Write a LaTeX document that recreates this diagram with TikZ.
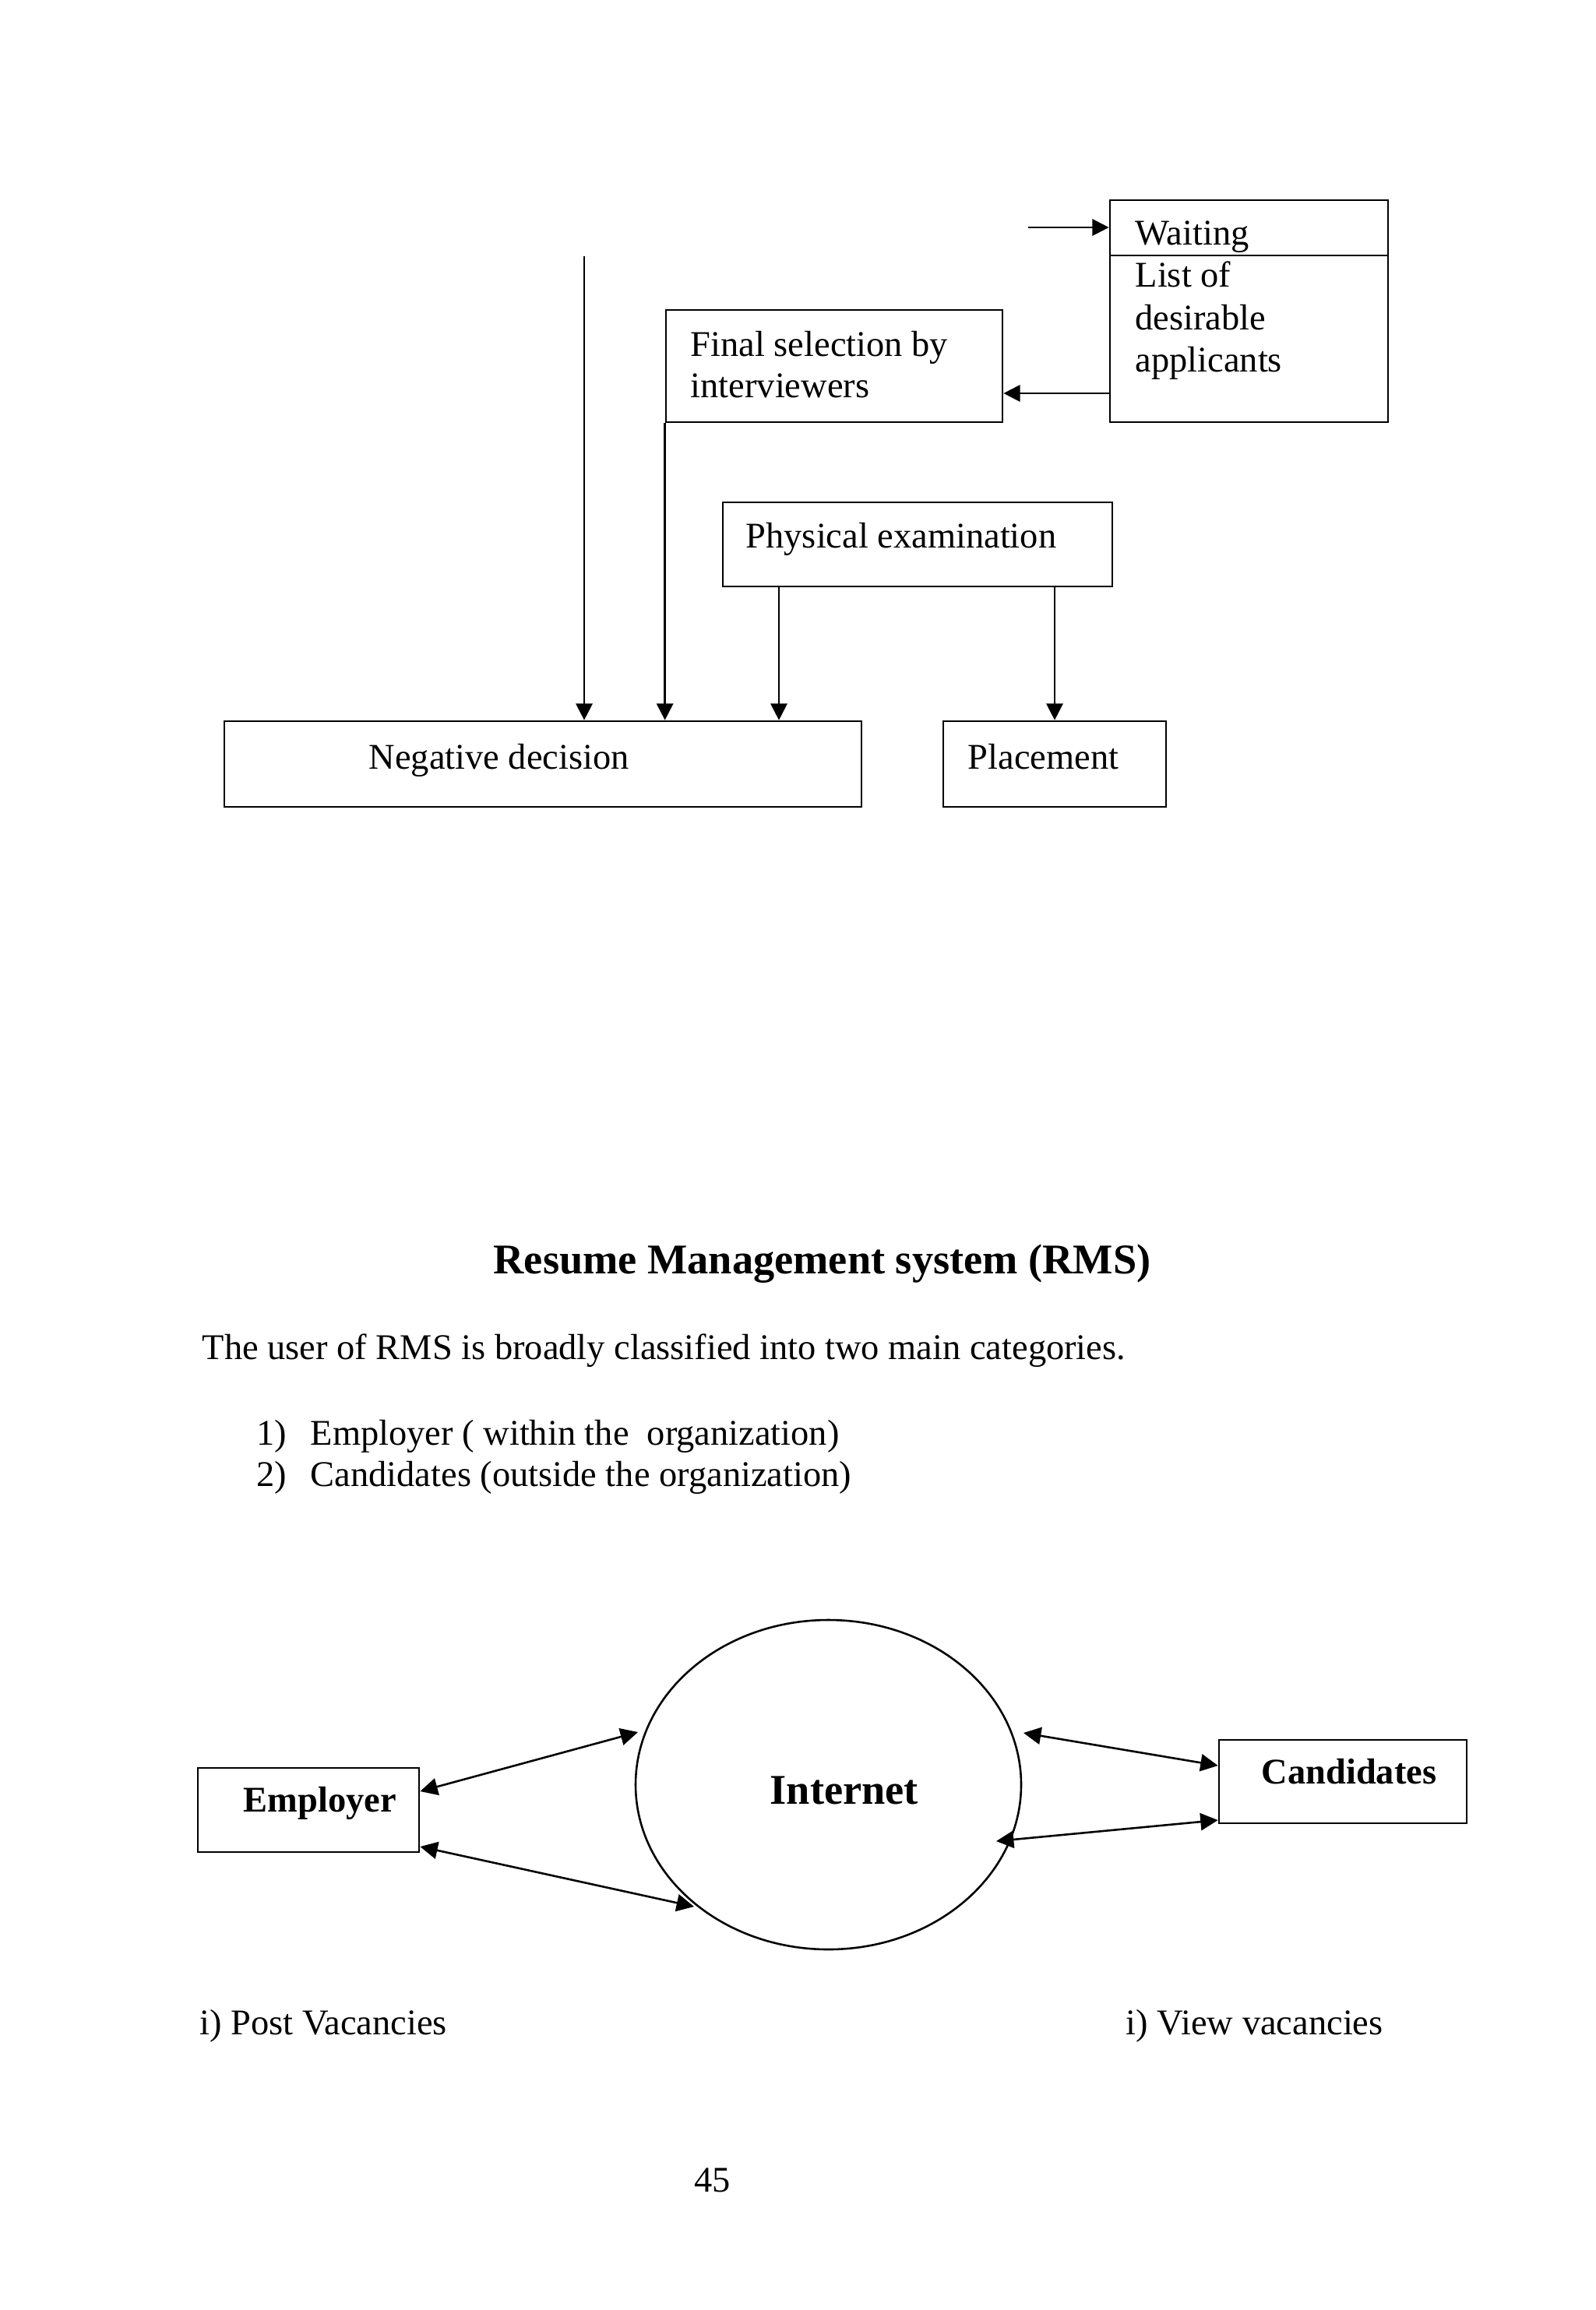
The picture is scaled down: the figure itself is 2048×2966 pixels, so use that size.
\documentclass[tikz,border=0pt]{standalone}
\usepackage{fontspec}
\setmainfont{Liberation Serif}
\usetikzlibrary{arrows.meta,fit,shapes.geometric}
\tikzset{
  boxshape/.style={draw, line width=0.8pt, rectangle, inner sep=0pt},
  lbl/.style={inner sep=0pt, anchor=base west, font=\fontsize{13.5}{15.5}\selectfont},
  blbl/.style={inner sep=0pt, anchor=base west, font=\fontsize{13.5}{15.5}\selectfont\bfseries},
  biglbl/.style={inner sep=0pt, anchor=base west, font=\fontsize{15.8}{18}\selectfont\bfseries},
  arr/.style={line width=0.7pt, -{Triangle[length=6.2pt,width=6.2pt]}},
  darr/.style={line width=0.75pt, {Triangle[length=6.5pt,width=6.4pt]}-{Triangle[length=6.5pt,width=6.4pt]}}
}
\begin{document}
\begin{tikzpicture}[x=0.29067pt,y=-0.29067pt]
\useasboundingbox[fill=white] (0,0) rectangle (2048,2966);

% ---------- top flow ----------
\node[boxshape, fit={(1425,257) (1782,328)}] (waittop) {};
\node[boxshape, fit={(1425,328) (1782,542)}] (waitlist) {};
\node[boxshape, fit={(855,398) (1287,542)}] (final) {};
\node[boxshape, fit={(928,645) (1428,753)}] (phys) {};
\node[boxshape, fit={(288,926) (1106,1036)}] (neg) {};
\node[boxshape, fit={(1211,926) (1497,1036)}] (place) {};

\node[lbl] (twait) at (1457,315) {Waiting};
\node[lbl] (tlist1) at (1457,368) {List of};
\node[lbl] (tlist2) at (1457,423) {desirable};
\node[lbl] (tlist3) at (1457,477) {applicants};
\node[lbl] (tfinal1) at (886,457) {Final selection by};
\node[lbl] (tfinal2) at (886,510) {interviewers};
\node[lbl] (tphys) at (957,703) {Physical examination};
\node[lbl] (tneg) at (473,987) {Negative decision};
\node[lbl] (tplace) at (1242,987) {Placement};

\coordinate (inW) at (1320,292);
\draw[arr] (inW) -- (inW -| waittop.west);
\coordinate (wf) at (1425,505);
\draw[arr] (wf) -- (wf -| final.east);
\coordinate (topL) at (750,329);
\draw[arr] (topL) -- (topL |- neg.north);
\draw[arr] (final.south west) -- (final.south west |- neg.north);
\coordinate (p1) at (1000,753);
\draw[arr] (p1) -- (p1 |- neg.north);
\draw[arr] (phys.south -| place.north) -- (place.north);

% ---------- text ----------
\node[biglbl] (title) at (633,1635) {Resume Management system (RMS)};
\node[lbl] (intro) at (259,1745) {The user of RMS is broadly classified into two main categories.};
\node[lbl] (n1) at (329,1855) {1)};
\node[lbl] (i1) at (398,1855) {Employer ( within the\ \ organization)};
\node[lbl] (n2) at (329,1908) {2)};
\node[lbl] (i2) at (398,1908) {Candidates (outside the organization)};

% ---------- bottom diagram ----------
\node[draw, line width=0.75pt, ellipse, inner sep=0pt, minimum width=143.88pt, minimum height=122.95pt] (inet) at (1063.5,2291.5) {};
\node[biglbl] (tinet) at (988,2316) {Internet};
\node[boxshape, fit={(254,2270) (538,2378)}] (emp) {};
\node[blbl] (temp) at (312,2326) {Employer};
\node[boxshape, fit={(1565,2234) (1883,2341)}] (cand) {};
\node[blbl] (tcand) at (1619,2290) {Candidates};

\coordinate (e1) at (819,2224);
\coordinate (e2) at (891,2448);
\coordinate (e3) at (1314,2225);
\coordinate (e4) at (1279,2364);
\draw[darr] (emp.east |- 0,2300) -- (e1);
\draw[darr] (emp.east |- 0,2371) -- (e2);
\draw[darr] (e3) -- (cand.west |- 0,2267);
\draw[darr] (e4) -- (cand.west |- 0,2337);

\node[lbl] (post) at (256,2612) {i) Post Vacancies};
\node[lbl] (view) at (1445,2612) {i) View vacancies};
\node[lbl] (pagenum) at (891,2814) {45};
\end{tikzpicture}
\end{document}
